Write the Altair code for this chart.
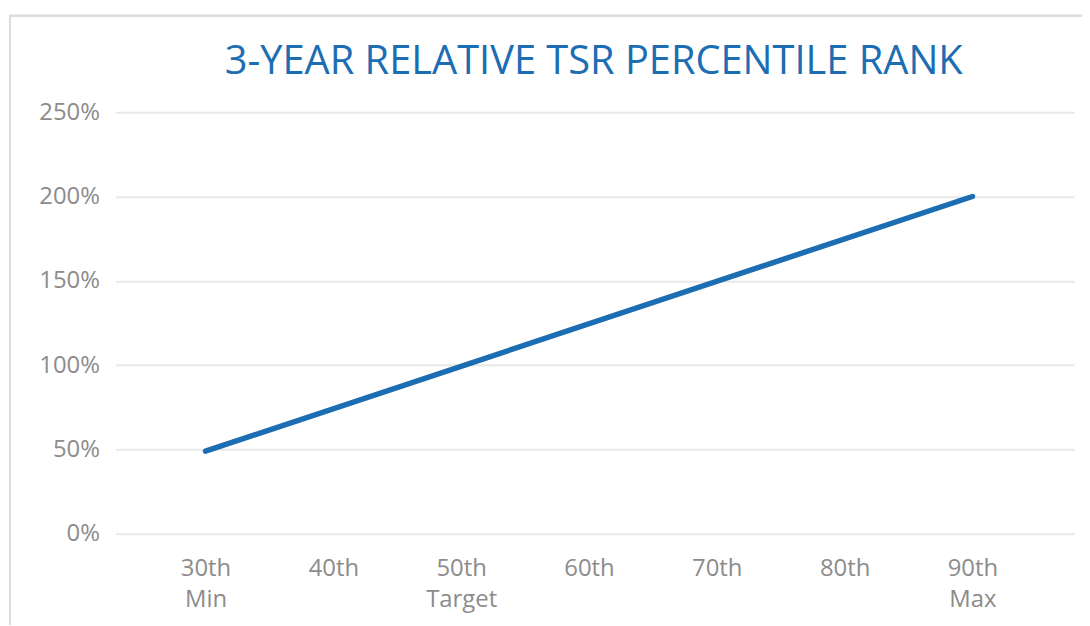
import altair as alt
import pandas as pd

categories = ["30th\nMin", "40th", "50th\nTarget", "60th", "70th", "80th", "90th\nMax"]
line_cats = ["30th\nMin", "90th\nMax"]
line_vals = [49, 200]
y_ticks = [0, 50, 100, 150, 200, 250]
title_text = "3-YEAR RELATIVE TSR PERCENTILE RANK"

df = pd.DataFrame({"cat": line_cats, "val": line_vals})

W, H = 964, 424
FONT = "Open Sans"
BLUE = "#1c6db2"
GREY = "#8c8c8c"

xscale = alt.Scale(type="point", domain=categories, padding=0.75, align=0.47)
yscale = alt.Scale(domain=[0, 250], nice=False)

line = alt.Chart(df).mark_line(color=BLUE, strokeWidth=5.5, strokeCap="round").encode(
    x=alt.X("cat:N", scale=xscale, sort=categories,
            axis=alt.Axis(title=None, labelExpr="split(datum.label, '\\n')",
                          labelAngle=0, labelFont=FONT, labelFontSize=24,
                          labelColor=GREY, labelPadding=23, labelLineHeight=31,
                          ticks=False, domain=False, grid=False,
                          values=categories)),
    y=alt.Y("val:Q", scale=yscale,
            axis=alt.Axis(title=None, values=y_ticks, labelExpr="datum.value + '%'",
                          labelFont=FONT, labelFontSize=24, labelColor=GREY,
                          labelPadding=16, ticks=False, domain=False,
                          grid=True, gridColor="#e8e8e8", gridWidth=2)),
)

frame = alt.Chart(df).mark_rect(fill=None, stroke="#dcdcdc", strokeWidth=2).encode(
    x=alt.value(-106), x2=alt.value(975), y=alt.value(-97), y2=alt.value(600)
)

title = alt.Chart(pd.DataFrame({"t": [title_text]})).mark_text(
    font=FONT, fontSize=40, color=BLUE, align="center", baseline="alphabetic"
).encode(text="t:N", x=alt.value(W / 2 - 1), y=alt.value(-38))

chart = alt.layer(frame, line, title).properties(
    width=W, height=H,
    autosize=alt.AutoSizeParams(type="none"),
    padding={"left": 108, "top": 103, "right": 8, "bottom": 90},
).configure_view(stroke=None)

chart.save("out.html", embed_options={"renderer": "svg", "actions": False})
